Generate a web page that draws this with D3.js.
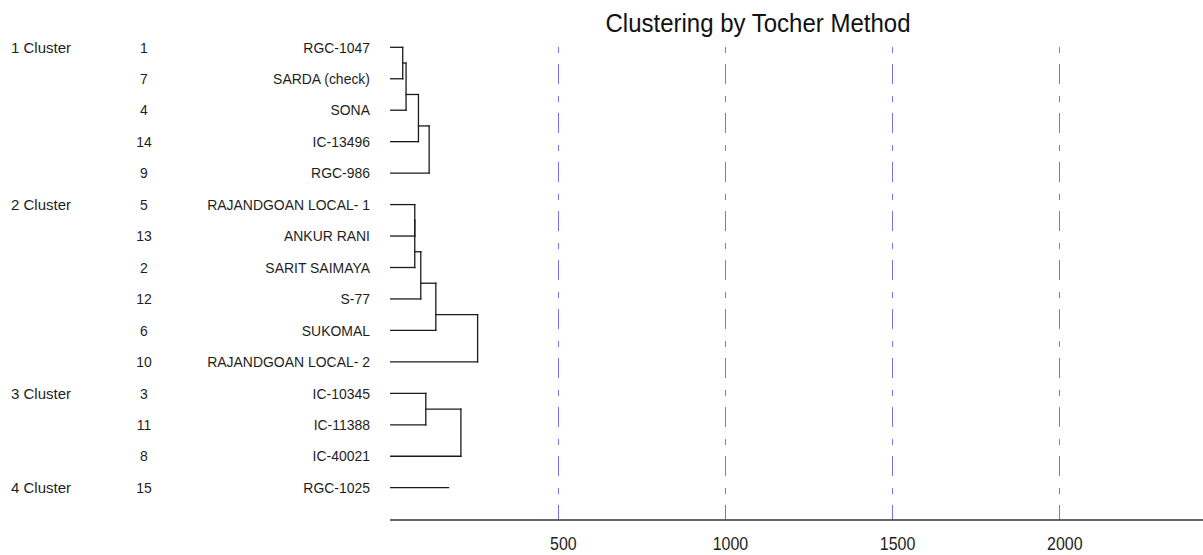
<!DOCTYPE html>
<html>
<head>
<meta charset="utf-8">
<script src="https://cdn.jsdelivr.net/npm/d3@7"></script>
<style>
  html, body { margin: 0; padding: 0; background: #fff; }
  svg { display: block; }
  text { font-family: "Liberation Sans", Arial, sans-serif; fill: #1e1e1e; }
</style>
</head>
<body>
<svg id="chart" width="1203" height="555"></svg>
<script>
// ---- data ----
const title = "Clustering by Tocher Method";
const clusterNames = ["1 Cluster", "2 Cluster", "3 Cluster", "4 Cluster"];
const leafNumbers = [1, 7, 4, 14, 9, 5, 13, 2, 12, 6, 10, 3, 11, 8, 15];
const leafNames = ["RGC-1047", "SARDA (check)", "SONA", "IC-13496", "RGC-986",
  "RAJANDGOAN LOCAL- 1", "ANKUR RANI", "SARIT SAIMAYA", "S-77", "SUKOMAL", "RAJANDGOAN LOCAL- 2",
  "IC-10345", "IC-11388", "IC-40021", "RGC-1025"];
const leafCluster = [0, 0, 0, 0, 0, 1, 1, 1, 1, 1, 1, 2, 2, 2, 3];
// merge heights within each cluster (successive joins of the next leaf)
const cluster1Merges = [36, 46, 83, 115];
const cluster2Merges = [72, 72, 90, 135, 260];
const cluster3Merges = [105, 210];
const cluster4Merges = [173];
const tickValues = [500, 1000, 1500, 2000];
const xMax = 2430;

// ---- layout ----
const svg = d3.select("#chart");
const x = d3.scaleLinear().domain([0, xMax]).range([390.7, 1203]);
const y = d3.scalePoint().domain(d3.range(leafNames.length)).range([47.3, 487.7]);
const axisY = 520;

function squeeze(sel, f) {
  sel.each(function () {
    const len = this.getComputedTextLength();
    d3.select(this).attr("textLength", len * f).attr("lengthAdjust", "spacingAndGlyphs");
  });
}

// grid lines
svg.append("g").selectAll("line").data(tickValues).join("line")
  .attr("x1", d => Math.round(x(d)) + 0.5).attr("x2", d => Math.round(x(d)) + 0.5)
  .attr("y1", 47).attr("y2", axisY)
  .attr("stroke", "#7373f7").attr("stroke-width", 1)
  .attr("stroke-dasharray", "6,11,20,12");

// title
svg.append("text").attr("x", 758).attr("y", 32).attr("text-anchor", "middle")
  .style("font-size", "25px").style("fill", "#111").text(title)
  .call(squeeze, 0.96);

// cluster labels at first leaf of each cluster
const firstLeaf = clusterNames.map((c, i) => leafCluster.indexOf(i));
svg.append("g").selectAll("text").data(clusterNames).join("text")
  .attr("x", 11).attr("y", (d, i) => y(firstLeaf[i])).attr("dy", "0.35em")
  .style("font-size", "15px").text(d => d);

// leaf numbers
svg.append("g").selectAll("text").data(leafNumbers).join("text")
  .attr("x", 144).attr("y", (d, i) => y(i)).attr("dy", "0.35em")
  .attr("text-anchor", "middle").style("font-size", "15px").text(d => d)
  .call(squeeze, 0.93);

// leaf names
svg.append("g").selectAll("text").data(leafNames).join("text")
  .attr("x", 370).attr("y", (d, i) => y(i)).attr("dy", "0.35em")
  .attr("text-anchor", "end").style("font-size", "15px").text(d => d)
  .call(squeeze, 0.93);

// dendrogram segments
const merges = [cluster1Merges, cluster2Merges, cluster3Merges, cluster4Merges];
const segs = [];
merges.forEach((h, c) => {
  const leaves = d3.range(leafNames.length).filter(i => leafCluster[i] === c);
  const ly = leaves.map(i => y(i));
  if (leaves.length === 1) {
    segs.push([x(0), ly[0], x(h[0]), ly[0]]);
    return;
  }
  leaves.forEach((l, k) => {
    const hk = k === 0 ? h[0] : h[k - 1];
    segs.push([x(0), ly[k], x(hk), ly[k]]);
  });
  for (let j = 1; j < leaves.length; j++) {
    const prevY = j === 1 ? ly[0] : (ly[j - 2] + ly[j - 1]) / 2;
    const hx = x(h[j - 1]);
    segs.push([hx, prevY, hx, ly[j]]);
    if (j < leaves.length - 1) {
      const ny = (ly[j - 1] + ly[j]) / 2;
      segs.push([hx, ny, x(h[j]), ny]);
    }
  }
});
svg.append("g").selectAll("line").data(segs).join("line")
  .attr("x1", d => d[0]).attr("y1", d => d[1])
  .attr("x2", d => d[2]).attr("y2", d => d[3])
  .attr("stroke", "#1a1a1a").attr("stroke-width", 1.3)
  .attr("stroke-linecap", "square");

// axis
const axis = d3.axisBottom(x).tickValues(tickValues).tickSize(0).tickPadding(16.5)
  .tickFormat(d3.format("d"));
const gAxis = svg.append("g").attr("transform", `translate(0,${axisY})`).call(axis);
gAxis.select(".domain").attr("stroke", "#333").attr("stroke-width", 1.5)
  .attr("d", `M${390},0H1203`);
gAxis.selectAll("text").style("font-size", "19px")
  .style("font-family", '"Liberation Sans", Arial, sans-serif').style("fill", "#1e1e1e")
  .attr("x", 5)
  .call(squeeze, 0.84);
</script>
</body>
</html>
